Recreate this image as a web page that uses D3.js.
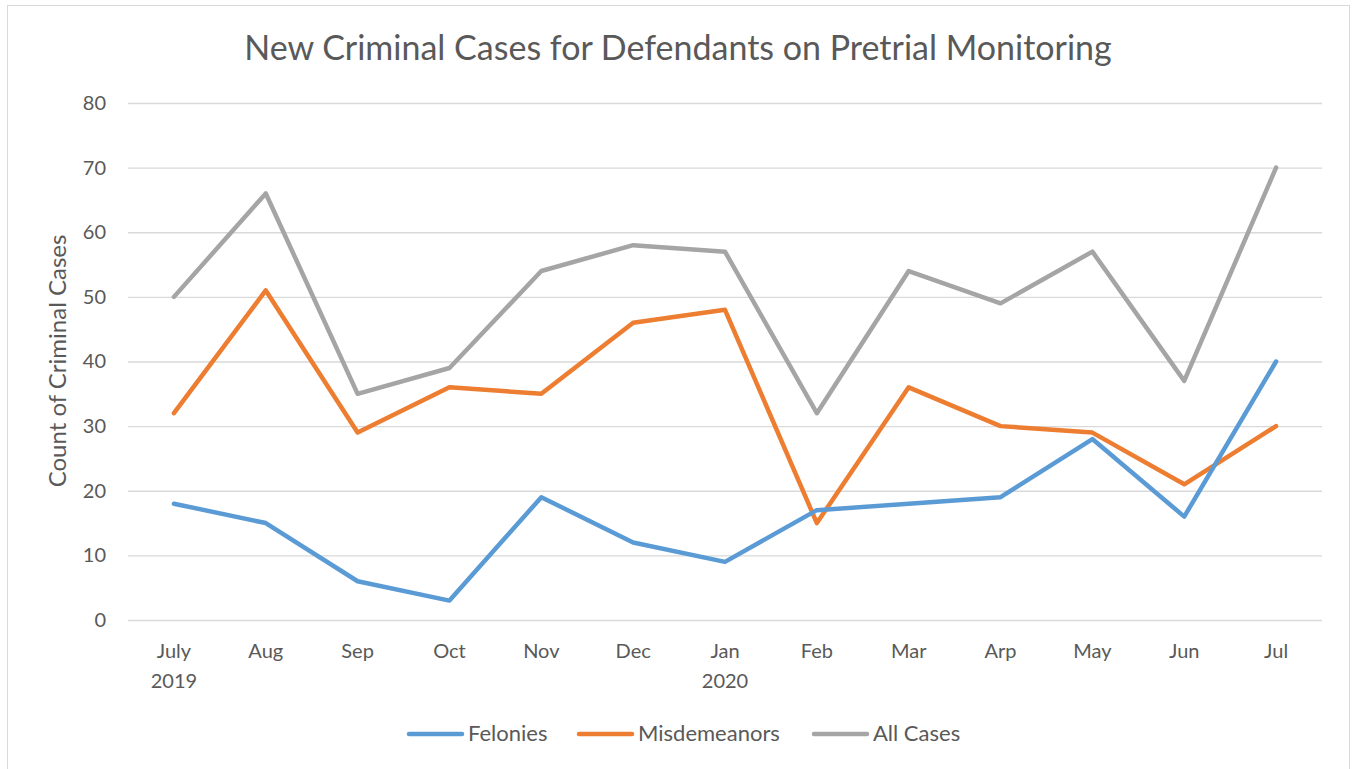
<!DOCTYPE html>
<html><head><meta charset="utf-8">
<script src="https://cdn.jsdelivr.net/npm/d3@7"></script>
<style>body{margin:0;background:#fff;} svg{display:block;}</style>
</head><body>
<svg id="c" width="1353" height="769"></svg>
<script>
const months = ["July|2019","Aug","Sep","Oct","Nov","Dec","Jan|2020","Feb","Mar","Arp","May","Jun","Jul"];
const felonies = [18,15,6,3,19,12,9,17,18,19,28,16,40];
const misdemeanors = [32,51,29,36,35,46,48,15,36,30,29,21,30];
const allCases = [50,66,35,39,54,58,57,32,54,49,57,37,70];
const yTicks = [0,10,20,30,40,50,60,70,80];
const seriesNames = ["Felonies","Misdemeanors","All Cases"];
const colors = ["#5B9BD5","#ED7D31","#A5A5A5"];

(function(){
const font = "Lato, 'Open Sans', sans-serif";
const svg = d3.select("#c");
svg.append("rect").attr("x",7.5).attr("y",5.5).attr("width",1342).attr("height",770)
  .attr("fill","#fff").attr("stroke","#D9D9D9");

const pL=128, pR=1322, pT=103, pB=620;
const x = d3.scaleBand().domain(months).range([pL,pR]);
const y = d3.scaleLinear().domain([0,80]).range([pB,pT]);

svg.append("text").attr("x",678).attr("y",60).attr("text-anchor","middle")
  .attr("font-family",font).attr("font-size",34).attr("fill","#595959")
  .text("New Criminal Cases for Defendants on Pretrial Monitoring");

const ga = svg.append("g").attr("transform",`translate(${pL},0)`)
  .call(d3.axisLeft(y).tickValues(yTicks).tickSize(-(pR-pL)).tickPadding(22));
ga.select(".domain").remove();
ga.selectAll(".tick line").attr("stroke","#D9D9D9").attr("stroke-width",1.3);
ga.selectAll(".tick text").attr("font-family",font).attr("font-size",20).attr("fill","#595959");

const gx = svg.append("g").attr("transform",`translate(0,${pB})`)
  .call(d3.axisBottom(x).tickSize(0).tickFormat(""));
gx.select(".domain").remove();
gx.selectAll(".tick").each(function(d){
  const parts = d.split("|");
  const t = d3.select(this).append("text").attr("font-family",font).attr("font-size",20)
    .attr("fill","#595959").attr("text-anchor","middle");
  parts.forEach((p,i)=>t.append("tspan").attr("x",0).attr("y",38+i*30).text(p));
});

svg.append("text").attr("transform","translate(66,361) rotate(-90)")
  .attr("text-anchor","middle").attr("font-family",font).attr("font-size",24)
  .attr("fill","#595959").text("Count of Criminal Cases");

const line = d3.line().x((d,i)=>x(months[i])+x.bandwidth()/2).y(d=>y(d));
const order=[allCases,misdemeanors,felonies];
const oc=[colors[2],colors[1],colors[0]];
order.forEach((s,k)=>{
  svg.append("path").datum(s).attr("d",line).attr("fill","none")
    .attr("stroke",oc[k]).attr("stroke-width",4.5).attr("stroke-linecap","round").attr("stroke-linejoin","round");
});

const legX=[409,579,814];
seriesNames.forEach((n,i)=>{
  svg.append("line").attr("x1",legX[i]).attr("x2",legX[i]+53).attr("y1",734).attr("y2",734)
    .attr("stroke",colors[i]).attr("stroke-width",4.5).attr("stroke-linecap","round");
  svg.append("text").attr("x",legX[i]+59).attr("y",741).attr("font-family",font).attr("font-size",22)
    .attr("fill","#595959").text(n);
});
})();
</script>
</body></html>
